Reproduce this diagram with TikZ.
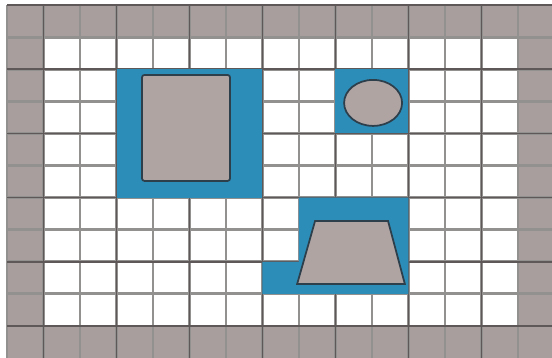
\documentclass[tikz,border=0pt]{standalone}
\usepackage{tikz}
\usepackage{xcolor}
\definecolor{MapTaupe}{HTML}{A89E9D}
\definecolor{MapBlock}{HTML}{B0A4A3}
\definecolor{MapBlue}{HTML}{2C8DB8}
\definecolor{MapEdge}{HTML}{2E3F4C}
\definecolor{MapLine}{HTML}{939090}
\definecolor{MapLineDark}{HTML}{5E5858}

\begin{document}
\begin{tikzpicture}[x=1.095cm,y=-0.963cm,
    wall/.style={fill=MapTaupe},
    freecell/.style={fill=white},
    zone/.style={fill=MapBlue},
    gridline/.style={draw=MapLine,line width=2.4pt},
    gridlinedark/.style={draw=MapLineDark,line width=1.4pt},
    obstacle/.style={draw=MapEdge,line width=1.5pt,fill=MapBlock}]
    \useasboundingbox (-0.192,-0.156) rectangle (14.932,10.997);
    % border cells and free space
    \fill[wall] (0,0) rectangle (14.932,10.997);
    \fill[freecell] (1,1) rectangle (14,10);
    % grid
    \foreach \i in {0,...,14}{\draw[gridline] (\i,0)--(\i,10.997);}
    \foreach \j in {0,...,10}{\draw[gridline] (0,\j)--(14.932,\j);}
    \foreach \i in {1,3,...,13}{\draw[gridlinedark] (\i,0)--(\i,10.997);}
    \foreach \j in {0,2,...,10}{\draw[gridlinedark] (0,\j)--(14.932,\j);}
    % occupied zones
    \fill[zone] (3,2) rectangle (7,6);
    \fill[zone] (9,2) rectangle (11,4);
    \fill[zone] (8,6)--(11,6)--(11,9)--(7,9)--(7,8)--(8,8)--cycle;
    % obstacles
    \draw[obstacle,rounded corners=2pt] (3.70,2.18) rectangle (6.11,5.48);
    \draw[obstacle] (10.03,3.05) ellipse [x radius=0.87cm,y radius=0.69cm];
    \draw[obstacle] (8.44,6.73)--(10.44,6.73)--(10.90,8.69)--(7.95,8.69)--cycle;
\end{tikzpicture}
\end{document}
